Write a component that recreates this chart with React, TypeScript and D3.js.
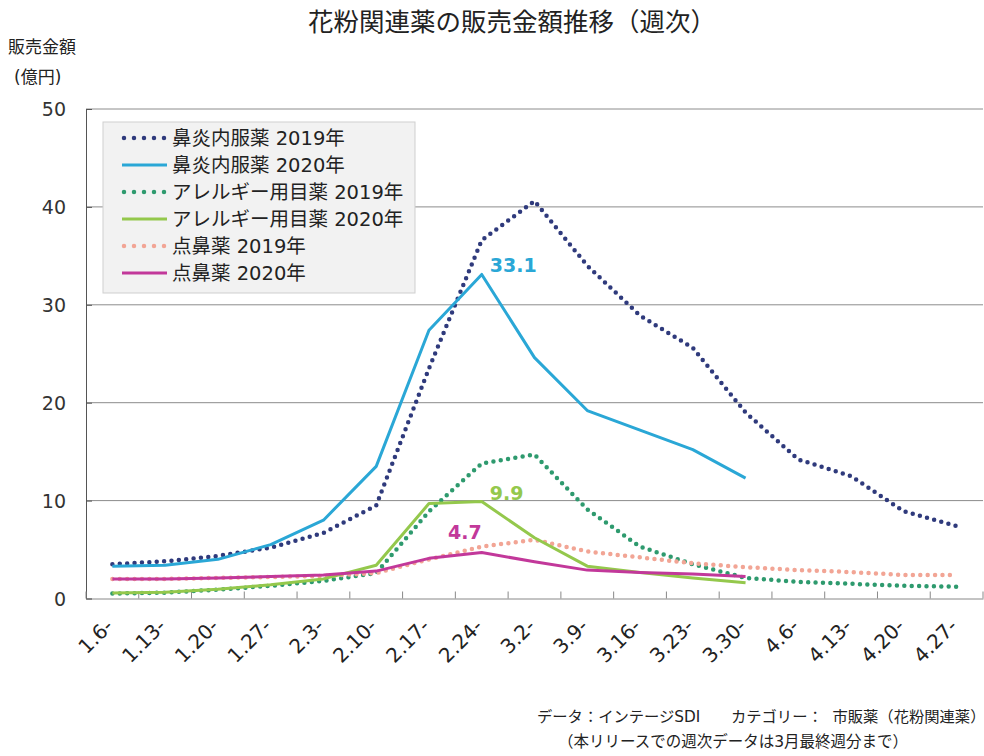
import React, { useEffect, useRef } from 'react';
import * as d3 from 'd3';

const weeks = ['1.6-', '1.13-', '1.20-', '1.27-', '2.3-', '2.10-', '2.17-', '2.24-', '3.2-', '3.9-', '3.16-', '3.23-', '3.30-', '4.6-', '4.13-', '4.20-', '4.27-'];

const oral2019 = [3.5, 3.8, 4.35, 5.2, 6.7, 9.5, 23.5, 36.6, 40.6, 34.0, 28.9, 25.6, 19.0, 14.2, 12.5, 8.9, 7.4];
const oral2020 = [3.3, 3.4, 4.0, 5.5, 8.0, 13.5, 27.4, 33.1, 24.6, 19.2, 17.2, 15.2, 12.3];
const eye2019 = [0.5, 0.6, 0.9, 1.3, 1.8, 2.6, 8.9, 13.8, 14.7, 9.1, 5.3, 3.5, 2.1, 1.7, 1.5, 1.3, 1.2];
const eye2020 = [0.55, 0.65, 0.95, 1.4, 2.0, 3.4, 9.7, 9.9, 6.2, 3.3, 2.65, 2.1, 1.6];
const nasal2019 = [2.0, 2.0, 2.1, 2.2, 2.3, 2.6, 4.0, 5.3, 6.0, 4.8, 4.2, 3.6, 3.2, 2.9, 2.7, 2.4, 2.4];
const nasal2020 = [2.0, 2.0, 2.1, 2.25, 2.4, 2.8, 4.1, 4.7, 3.75, 2.9, 2.65, 2.5, 2.25];

const yTicks = [0, 10, 20, 30, 40, 50];

const series = [
  { name: '鼻炎内服薬 2019年', values: oral2019, color: '#2f3a7c', dotted: true },
  { name: '鼻炎内服薬 2020年', values: oral2020, color: '#2aa7d6', dotted: false },
  { name: 'アレルギー用目薬 2019年', values: eye2019, color: '#2e9a6e', dotted: true },
  { name: 'アレルギー用目薬 2020年', values: eye2020, color: '#94c84c', dotted: false },
  { name: '点鼻薬 2019年', values: nasal2019, color: '#f2a595', dotted: true },
  { name: '点鼻薬 2020年', values: nasal2020, color: '#c2389a', dotted: false },
];

// peak labels: series index, week index
const peakLabels = [
  { s: 1, i: 7, dx: 8, dy: -2, anchor: 'start' },
  { s: 3, i: 7, dx: 8, dy: -2, anchor: 'start' },
  { s: 5, i: 7, dx: 0, dy: -13, anchor: 'end' },
];

const FONT = '"DejaVu Sans", "Noto Sans CJK JP", sans-serif';

const App = () => {
  const ref = useRef<SVGSVGElement>(null);

  useEffect(() => {
    const width = 984;
    const height = 756;
    const left = 86, right = 983, top = 109, bottom = 598.5;

    const svg = d3.select(ref.current);
    svg.selectAll('*').remove();
    svg.attr('width', width).attr('height', height);
    svg.append('rect').attr('width', width).attr('height', height).attr('fill', '#fff');

    const x = d3.scaleBand().domain(weeks).range([left, right]);
    const y = d3.scaleLinear().domain([0, 50]).range([bottom, top]);
    const cx = (i: number) => (x(weeks[i]) as number) + x.bandwidth() / 2;

    // title & unit
    svg.append('text')
      .attr('x', 512).attr('y', 31)
      .attr('text-anchor', 'middle')
      .style('font-family', FONT).style('font-size', '25.5px').attr('fill', '#222')
      .text('花粉関連薬の販売金額推移（週次）');
    svg.append('text').attr('x', 8).attr('y', 53)
      .style('font-family', FONT).style('font-size', '17px').attr('fill', '#222')
      .text('販売金額');
    svg.append('text').attr('x', 14).attr('y', 83)
      .style('font-family', FONT).style('font-size', '17px').attr('fill', '#222')
      .text('(億円)');

    // grid
    svg.append('g').selectAll('line').data(yTicks.filter(d => d > 0)).enter()
      .append('line')
      .attr('x1', left).attr('x2', right)
      .attr('y1', d => y(d)).attr('y2', d => y(d))
      .attr('stroke', '#8c8c8c').attr('stroke-width', 1);

    // y axis
    const yAxis = svg.append('g')
      .attr('transform', `translate(${left},0)`)
      .call(d3.axisRight(y).tickValues(yTicks).tickSize(6).tickFormat(() => ''));
    yAxis.select('.domain').attr('stroke', '#555');
    yAxis.selectAll('.tick line').attr('stroke', '#555');
    svg.append('g').selectAll('text').data(yTicks).enter()
      .append('text')
      .attr('x', 66).attr('y', d => y(d) + 7)
      .attr('text-anchor', 'end')
      .style('font-family', FONT).style('font-size', '19px').attr('fill', '#333')
      .text(d => d);

    // x axis
    const xAxis = svg.append('g')
      .attr('transform', `translate(0,${bottom})`)
      .call(d3.axisTop(x).tickSize(0).tickFormat(() => ''));
    xAxis.select('.domain').attr('stroke', '#888');
    svg.append('g').selectAll('line').data(d3.range(weeks.length + 1)).enter()
      .append('line')
      .attr('x1', i => left + i * x.step()).attr('x2', i => left + i * x.step())
      .attr('y1', bottom).attr('y2', bottom - 7)
      .attr('stroke', '#888');
    svg.append('g').selectAll('text').data(weeks).enter()
      .append('text')
      .attr('transform', (d, i) => `translate(${cx(i) + 2},${bottom + 29}) rotate(-45)`)
      .attr('text-anchor', 'end')
      .style('font-family', FONT).style('font-size', '20px').attr('fill', '#222')
      .text(d => d);

    // lines
    const line = d3.line<number>()
      .x((d, i) => cx(i))
      .y(d => y(d));
    const order = [0, 2, 4, 1, 3, 5];
    order.forEach(k => {
      const s = series[k];
      svg.append('path')
        .datum(s.values)
        .attr('d', line)
        .attr('fill', 'none')
        .attr('stroke', s.color)
        .attr('stroke-width', s.dotted ? 4.5 : 3)
        .attr('stroke-linecap', s.dotted ? 'round' : 'butt')
        .attr('stroke-linejoin', 'round')
        .attr('stroke-dasharray', s.dotted ? '0 7.4' : null);
    });

    // peak labels
    peakLabels.forEach(p => {
      const s = series[p.s];
      svg.append('text')
        .attr('x', cx(p.i) + p.dx).attr('y', y(s.values[p.i]) + p.dy)
        .attr('text-anchor', p.anchor)
        .style('font-family', FONT).style('font-size', '19px').style('font-weight', 'bold')
        .attr('fill', s.color)
        .text(s.values[p.i]);
    });

    // legend
    const lg = svg.append('g');
    lg.append('rect')
      .attr('x', 103).attr('y', 122).attr('width', 312).attr('height', 171)
      .attr('fill', '#f2f2f2').attr('stroke', '#cfcfcf');
    series.forEach((s, i) => {
      const ly = 138 + i * 27;
      lg.append('line')
        .attr('x1', s.dotted ? 124 : 122).attr('x2', 167)
        .attr('y1', ly).attr('y2', ly)
        .attr('stroke', s.color)
        .attr('stroke-width', s.dotted ? 4.5 : 3)
        .attr('stroke-linecap', s.dotted ? 'round' : 'butt')
        .attr('stroke-dasharray', s.dotted ? '0 10' : null);
      lg.append('text')
        .attr('x', 172).attr('y', ly + 7)
        .style('font-family', FONT).style('font-size', '19.5px').attr('fill', '#222')
        .text(s.name);
    });

    // source note
    svg.append('text').attr('x', 537).attr('y', 722)
      .style('font-family', FONT).style('font-size', '15.3px').attr('fill', '#222')
      .style('white-space', 'pre')
      .text('データ：インテージSDI　　カテゴリー：  市販薬（花粉関連薬）');
    svg.append('text').attr('x', 558).attr('y', 747)
      .style('font-family', FONT).style('font-size', '15.5px').attr('fill', '#222')
      .text('（本リリースでの週次データは3月最終週分まで）');
  });

  return (
    <div style={{ position: 'absolute', left: 0, top: 0, width: 984, height: 756, overflow: 'hidden' }}>
      <svg ref={ref}></svg>
    </div>
  );
};

export default App;
